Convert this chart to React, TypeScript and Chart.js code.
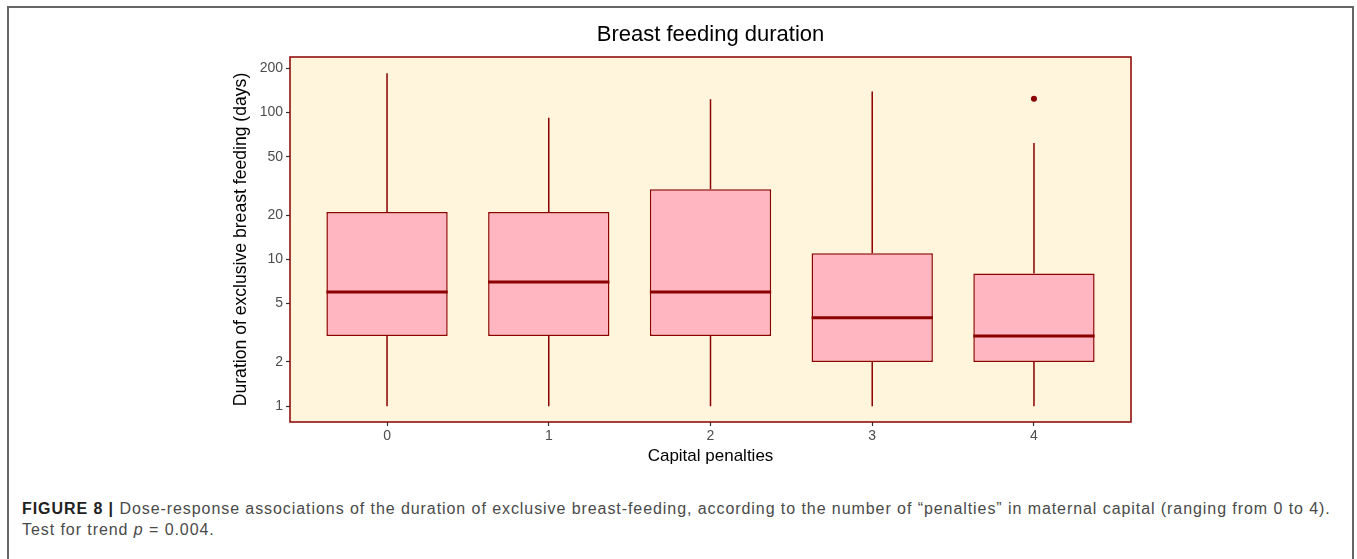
import React, { useEffect, useRef } from "react";
import { Chart, registerables } from "chart.js";

Chart.register(...registerables);

// ---- data ----
const CATEGORIES = ["0", "1", "2", "3", "4"];
const WHISKER_LOW = [1, 1, 1, 1, 1];
const Q1 = [3, 3, 3, 2, 2];
const MEDIAN = [6, 7, 6, 4, 3];
const Q3 = [21, 21, 30, 11, 8];
const WHISKER_HIGH = [185, 92, 123, 139, 62];
const OUTLIER_CATEGORY = [4];
const OUTLIER_VALUE = [124];
const Y_TICKS = [1, 2, 5, 10, 20, 50, 100, 200];

const TITLE = "Breast feeding duration";
const X_TITLE = "Capital penalties";
const Y_TITLE = "Duration of exclusive breast feeding (days)";

// ---- styles ----
const BOX_WIDTH = 0.75;
const DARK_RED = "#8B0000";
const BOX_FILL = "#FFB6C1";
const PANEL_BG = "#FFF4DC";
const FONT = '"Liberation Sans", Arial, Helvetica, sans-serif';

const panelPlugin = {
  id: "panel",
  beforeDraw(chart: any) {
    const { ctx, chartArea } = chart;
    ctx.save();
    ctx.fillStyle = PANEL_BG;
    ctx.fillRect(chartArea.left, chartArea.top, chartArea.right - chartArea.left, chartArea.bottom - chartArea.top);
    ctx.restore();
  },
  afterDraw(chart: any) {
    const { ctx, chartArea } = chart;
    ctx.save();
    ctx.strokeStyle = DARK_RED;
    ctx.lineWidth = 1.5;
    ctx.strokeRect(chartArea.left, chartArea.top, chartArea.right - chartArea.left, chartArea.bottom - chartArea.top);
    ctx.restore();
  },
};

export default function App() {
  const ref = useRef<HTMLCanvasElement>(null);

  useEffect(() => {
    if (!ref.current) return;

    const whiskers: any[] = [];
    const medians: any[] = [];
    CATEGORIES.forEach((_, i) => {
      whiskers.push(
        { x: i, y: WHISKER_LOW[i] },
        { x: i, y: Q1[i] },
        { x: i, y: null },
        { x: i, y: Q3[i] },
        { x: i, y: WHISKER_HIGH[i] },
        { x: i, y: null }
      );
      medians.push(
        { x: i - BOX_WIDTH / 2, y: MEDIAN[i] },
        { x: i + BOX_WIDTH / 2, y: MEDIAN[i] },
        { x: i + BOX_WIDTH / 2, y: null }
      );
    });

    const tickFont = { family: FONT, size: 14 };

    const chart = new Chart(ref.current, {
      type: "bar",
      data: {
        datasets: [
          {
            type: "bar",
            data: CATEGORIES.map((_, i) => ({ x: i, y: [Q1[i], Q3[i]] })) as any,
            backgroundColor: BOX_FILL,
            borderColor: DARK_RED,
            borderWidth: 1.5,
            borderSkipped: false,
            barPercentage: BOX_WIDTH,
            categoryPercentage: 1,
            order: 3,
          } as any,
          {
            type: "line",
            data: whiskers,
            borderColor: DARK_RED,
            borderWidth: 1.5,
            pointRadius: 0,
            fill: false,
            tension: 0,
            order: 2,
          } as any,
          {
            type: "line",
            data: medians,
            borderColor: DARK_RED,
            borderWidth: 3,
            borderCapStyle: "butt",
            pointRadius: 0,
            fill: false,
            tension: 0,
            order: 1,
          } as any,
          {
            type: "line",
            data: OUTLIER_CATEGORY.map((c, i) => ({ x: c, y: OUTLIER_VALUE[i] })),
            showLine: false,
            pointRadius: 3,
            pointBackgroundColor: DARK_RED,
            pointBorderWidth: 0,
            order: 0,
          } as any,
        ],
      },
      options: {
        animation: false,
        responsive: false,
        maintainAspectRatio: false,
        layout: { padding: { left: 220, right: 226, top: 0, bottom: 8 } },
        plugins: {
          legend: { display: false },
          tooltip: { enabled: false },
          title: {
            display: true,
            text: TITLE,
            fullSize: false,
            color: "#000",
            font: { family: FONT, size: 22, weight: "normal" },
            padding: { top: 22, bottom: 8.6 },
          },
        },
        scales: {
          x: {
            type: "linear",
            min: -0.6,
            max: 4.6,
            offset: false,
            afterBuildTicks: (s: any) => {
              s.ticks = CATEGORIES.map((_, i) => ({ value: i }));
            },
            afterFit: (s: any) => {
              s.height = 50;
            },
            ticks: {
              callback: (v: any) => CATEGORIES[Math.round(Number(v))],
              font: tickFont,
              color: "#4D4D4D",
              padding: 2,
              maxRotation: 0,
            },
            grid: {
              drawOnChartArea: false,
              drawTicks: true,
              tickLength: 4,
              tickColor: "#333",
              tickWidth: 1.2,
              offset: false,
            },
            border: { display: false },
            title: {
              display: true,
              text: X_TITLE,
              color: "#000",
              font: { family: FONT, size: 17 },
              padding: { top: 0, bottom: 5 },
            },
          },
          y: {
            type: "logarithmic",
            min: 0.78,
            max: 239,
            afterBuildTicks: (s: any) => {
              s.ticks = Y_TICKS.map((v) => ({ value: v }));
            },
            afterFit: (s: any) => {
              s.width = 70;
            },
            ticks: {
              callback: (v: any) => String(v),
              font: tickFont,
              color: "#4D4D4D",
              padding: 3,
            },
            grid: {
              drawOnChartArea: false,
              drawTicks: true,
              tickLength: 4,
              tickColor: "#333",
              tickWidth: 1.2,
            },
            border: { display: false },
            title: {
              display: true,
              text: Y_TITLE,
              color: "#000",
              font: { family: FONT, size: 17.6 },
              padding: { top: 10.4, bottom: 0 },
            },
          },
        },
      } as any,
      plugins: [panelPlugin],
    });

    return () => chart.destroy();
  }, []);

  return (
    <div>
      <div
        style={{
          position: "absolute",
          left: 7,
          top: 6,
          width: 1343,
          height: 553,
          borderLeft: "2px solid #666",
          borderTop: "2px solid #666",
          borderRight: "2px solid #666",
          boxSizing: "content-box",
        }}
      />
      <canvas
        ref={ref}
        width={1357}
        height={480}
        style={{ position: "absolute", left: 0, top: 0, width: 1357, height: 480 }}
      />
      <div
        style={{
          position: "absolute",
          left: 22,
          top: 498,
          fontFamily: FONT,
          fontSize: 16,
          letterSpacing: "0.93px",
          lineHeight: "21px",
          color: "#4a4a4a",
          whiteSpace: "nowrap",
        }}
      >
        <div>
          <b style={{ color: "#222" }}>FIGURE 8 |</b> Dose-response associations of the duration of exclusive
          breast-feeding, according to the number of “penalties” in maternal capital (ranging from 0 to 4).
        </div>
        <div>
          Test for trend <i>p</i> = 0.004.
        </div>
      </div>
    </div>
  );
}
